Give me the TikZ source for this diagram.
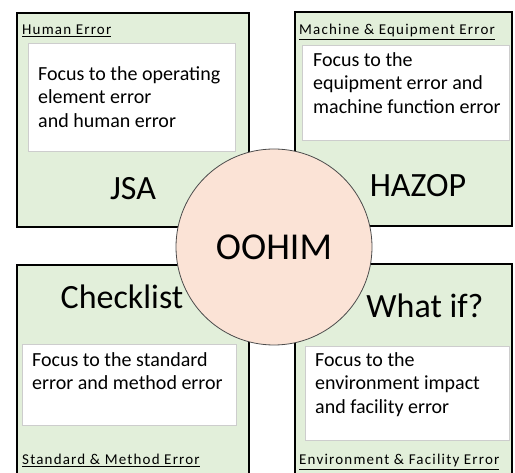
\documentclass[tikz,border=0pt]{standalone}
\usepackage{fontspec}
\setmainfont{Carlito}
\newfontfamily\labelfont[LetterSpace=8]{Carlito}
\definecolor{boxgreen}{RGB}{226, 239, 218}
\definecolor{corepink}{RGB}{251, 227, 214}
\definecolor{notegray}{RGB}{205, 205, 205}
\tikzstyle{quad_box}=[draw=black, fill=boxgreen, line width=1.6pt, inner sep=0pt, anchor=north west]
\tikzstyle{note_box}=[draw=notegray, fill=white, line width=0.8pt, inner sep=0pt, anchor=north west]
\tikzstyle{note_text}=[align=left, inner sep=0pt, anchor=north west,
    font=\fontsize{20}{23.5}\selectfont]
\tikzstyle{area_label}=[inner sep=0pt, anchor=base west, font=\labelfont\fontsize{15}{17}\selectfont]
\tikzstyle{method_label}=[inner sep=0pt, anchor=base, font=\fontsize{34}{40}\selectfont]
\tikzstyle{core_circle}=[circle, draw=black!70, fill=corepink, line width=0.8pt,
    minimum size=196pt, inner sep=0pt, font=\fontsize{38}{44}\selectfont]

\begin{document}
\begin{tikzpicture}[x=1pt, y=-1pt]
  \useasboundingbox (0,0) rectangle (515,473);
  \clip (0,0) rectangle (515,473);

  % Four quadrants, the lower two run off the bottom edge
  \node[quad_box, minimum width=232pt, minimum height=214pt] (human) at (16,12) {};
  \node[quad_box, minimum width=217pt, minimum height=214pt] (machine) at (294,11) {};
  \node[quad_box, minimum width=232pt, minimum height=240pt] (standard) at (16,264) {};
  \node[quad_box, minimum width=217pt, minimum height=240pt] (environment) at (294,263) {};

  % White note boxes
  \node[note_box, minimum width=207pt, minimum height=108pt] (humannote) at (28,43) {};
  \node[note_box, minimum width=207pt, minimum height=95pt] (machinenote) at (302,45) {};
  \node[note_box, minimum width=214pt, minimum height=81pt] (standardnote) at (22,344) {};
  \node[note_box, minimum width=204pt, minimum height=94pt] (environmentnote) at (305,346) {};

  % Note texts
  \node[note_text] (humantext) at (38,66) {Focus to the operating\\element error\\and human error};
  \node[note_text] (machinetext) at (313,52) {Focus to the\\equipment error and\\machine function error};
  \node[note_text] (standardtext) at (32,352) {Focus to the standard\\error and method error};
  \node[note_text] (environmenttext) at (315,352) {Focus to the\\environment impact\\and facility error};

  % Area names
  \node[area_label] (humanlabel) at (22,35) {\underline{Human Error}};
  \node[area_label] (machinelabel) at (299,35) {\underline{Machine \& Equipment Error}};
  \node[area_label] (standardlabel) at (22,465) {\underline{Standard \& Method Error}};
  \node[area_label] (environmentlabel) at (299,465) {\underline{Environment \& Facility Error}};

  % Method names
  \node[method_label] (jsa) at (133,200) {JSA};
  \node[method_label] (hazop) at (418,197) {HAZOP};
  \node[method_label] (checklist) at (122,309) {Checklist};
  \node[method_label] (whatif) at (425,318) {What if?};

  % Centre circle
  \node[core_circle] (oohim) at (274,247) {OOHIM};
\end{tikzpicture}
\end{document}
